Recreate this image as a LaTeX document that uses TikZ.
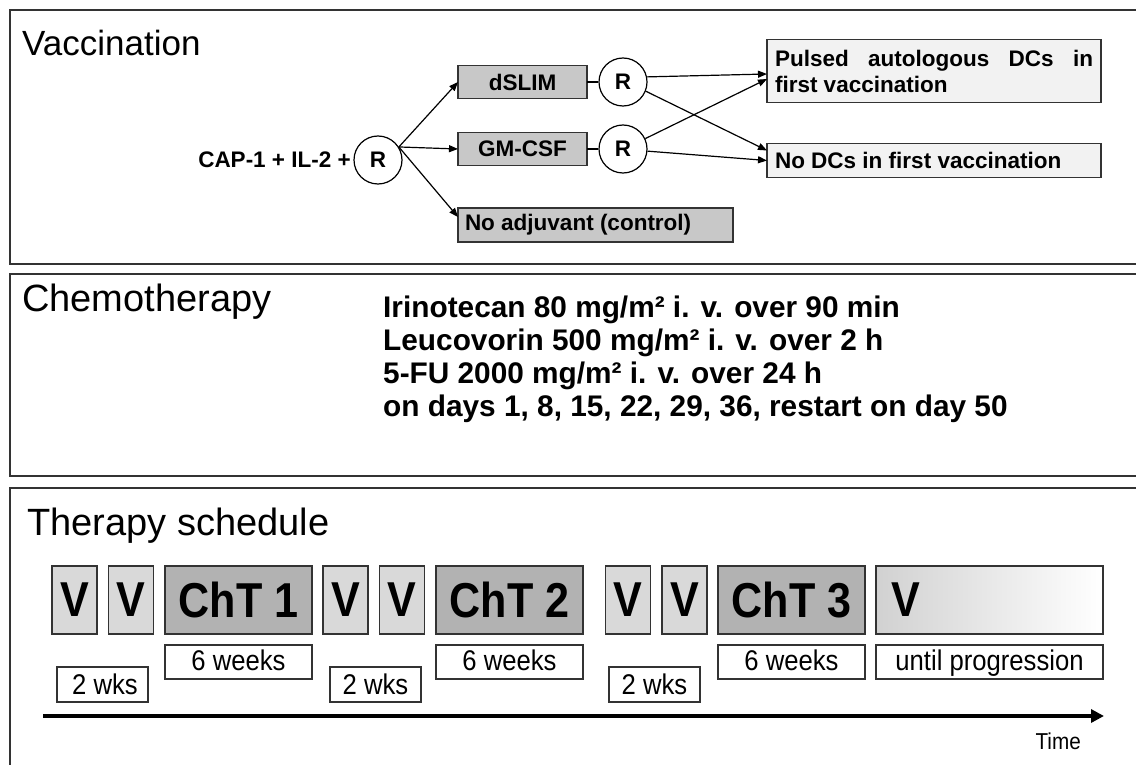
\documentclass[tikz,border=0pt]{standalone}
\usepackage{fontspec}
\setmainfont{Liberation Sans}
\newfontfamily\narrowfont{Liberation Sans}[FakeStretch=0.9]
\newfontfamily\narrowbold{Liberation Sans Bold}[FakeStretch=0.88]
\usetikzlibrary{arrows.meta}
\definecolor{boxgray}{HTML}{C8C8C8}
\definecolor{lightbox}{HTML}{F2F2F2}
\definecolor{vgray}{HTML}{D9D9D9}
\definecolor{chtgray}{HTML}{B2B2B2}
\definecolor{edge}{HTML}{333333}
\begin{document}
\begin{tikzpicture}[x=1pt,y=-1pt,
  panel/.style={draw=edge, line width=1.3pt},
  title/.style={anchor=base west, inner sep=0, font=\fontsize{38}{42}\selectfont},
  vtext/.style={font=\bfseries\fontsize{22.5}{26}\selectfont},
  gbox/.style={draw=edge, fill=boxgray, line width=1.2pt, inner sep=0, outer sep=0, vtext},
  lbox/.style={gbox, fill=lightbox},
  rcirc/.style={circle, draw=black, fill=white, line width=1.2pt, minimum size=48pt, inner sep=0, vtext},
  arr/.style={line width=1.2pt, -{Triangle[length=9pt,width=7pt]}},
  link/.style={line width=1.2pt},
  vbox/.style={draw=edge, fill=vgray, line width=1.3pt, inner sep=0, outer sep=0, minimum height=68pt, minimum width=45pt, font=\narrowbold\fontsize{49}{52}\selectfont},
  cbox/.style={vbox, fill=chtgray, minimum width=147pt},
  wbox/.style={draw=edge, fill=white, line width=1.3pt, inner sep=0, outer sep=0, minimum height=34pt, text height=21pt, text depth=4pt, font=\narrowfont\fontsize{28.5}{32}\selectfont},
  chem/.style={anchor=base west, inner sep=0, font=\bfseries\fontsize{29.8}{35}\selectfont},
]
\fill[white] (0,0) rectangle (1136,765);
\useasboundingbox (0,0) rectangle (1136,765);

% panels
\draw[panel] (10,10) rectangle (1145,264);
\draw[panel] (10,274) rectangle (1145,476);
\draw[panel] (10,488) rectangle (1145,775);

% titles
\node[title, font=\fontsize{35}{40}\selectfont] (tvac) at (22,56) {Vaccination};
\node[title] (tchem) at (22,311) {Chemotherapy};
\node[title] (tsched) at (27,535) {Therapy schedule};

% vaccination diagram
\node[anchor=east, inner sep=0, vtext] (cap) at (351,160) {CAP-1 + IL-2 +};
\node[rcirc] (c0) at (378,160) {R};
\node[gbox, minimum width=129pt, minimum height=33pt] (dslim) at (522.5,82) {dSLIM};
\node[gbox, minimum width=129pt, minimum height=33pt] (gm) at (522.5,149) {GM-CSF};
\node[gbox, minimum width=275pt, minimum height=34pt] (noadj) at (595.5,225) {\makebox[261pt][l]{No adjuvant (control)}};
\node[rcirc] (r1) at (623,82) {R};
\node[rcirc] (r2) at (623,149) {R};
\node[lbox, minimum width=334pt, minimum height=63pt] (pulsed) at (934,71)
  {\parbox{318pt}{\baselineskip=26pt Pulsed\hfill autologous\hfill DCs\hfill in\\first vaccination}};
\node[lbox, minimum width=334pt, minimum height=34pt] (nodcs) at (934,160.5) {\makebox[318pt][l]{No DCs in first vaccination}};

\coordinate (c0out) at (c0.32);
\draw[arr] (c0out) -- (dslim.west);
\draw[arr] (c0out) -- (gm.west);
\draw[arr] (c0out) -- ([yshift=8pt]noadj.west);
\draw[link] (dslim.east) -- (r1.west);
\draw[link] (gm.east) -- (r2.west);
\draw[arr] (r1.12) -- ([yshift=-3pt]pulsed.west);
\draw[arr] (r1.-22) -- ([yshift=10pt]nodcs.west);
\draw[arr] (r2.25) -- ([yshift=-8pt]pulsed.west);
\draw[arr] (r2.-5) -- ([yshift=0pt]nodcs.west);

% chemotherapy text
\node[chem] (l1) at (383,317) {Irinotecan 80 mg/m² i. v. over 90 min};
\node[chem] (l2) at (383,350) {Leucovorin 500 mg/m² i. v. over 2 h};
\node[chem] (l3) at (383,383) {5-FU 2000 mg/m² i. v. over 24 h};
\node[chem] (l4) at (383,416) {on days 1, 8, 15, 22, 29, 36, restart on day 50};

% schedule
\node[vbox] (v1) at (74.5,600) {V};
\node[vbox] (v2) at (131,600) {V};
\node[cbox] (ch1) at (238.5,600) {ChT 1};
\node[vbox] (v3) at (345.5,600) {V};
\node[vbox] (v4) at (402,600) {V};
\node[cbox] (ch2) at (509.5,600) {ChT 2};
\node[vbox] (v5) at (628,600) {V};
\node[vbox] (v6) at (684.5,600) {V};
\node[cbox] (ch3) at (791.5,600) {ChT 3};
\node[vbox, minimum width=227pt, left color=black!18, right color=white] (vl) at (989.5,600) {\makebox[197pt][l]{V}};

\node[wbox, minimum width=147pt] (w1) at (238.5,662) {6 weeks};
\node[wbox, minimum width=147pt] (w2) at (509.5,662) {6 weeks};
\node[wbox, minimum width=147pt] (w3) at (791.5,662) {6 weeks};
\node[wbox, minimum width=227pt] (w4) at (989.5,662) {until progression};
\node[wbox, minimum width=91pt, minimum height=35pt, text depth=2pt] (k1) at (102.5,684.5) {\hspace{5pt}2 wks};
\node[wbox, minimum width=91pt, minimum height=35pt, text depth=2pt] (k2) at (375.5,684.5) {2 wks};
\node[wbox, minimum width=91pt, minimum height=35pt, text depth=2pt] (k3) at (654.5,684.5) {2 wks};

\coordinate (t0) at (43,716);
\coordinate (t1) at (1104,716);
\draw[line width=4.5pt, -{Triangle[length=13pt,width=13pt]}] (t0) -- (t1);
\node[anchor=base east, inner sep=0, font=\narrowfont\fontsize{23}{26}\selectfont] (time) at (1081,749) {Time};
\end{tikzpicture}
\end{document}
